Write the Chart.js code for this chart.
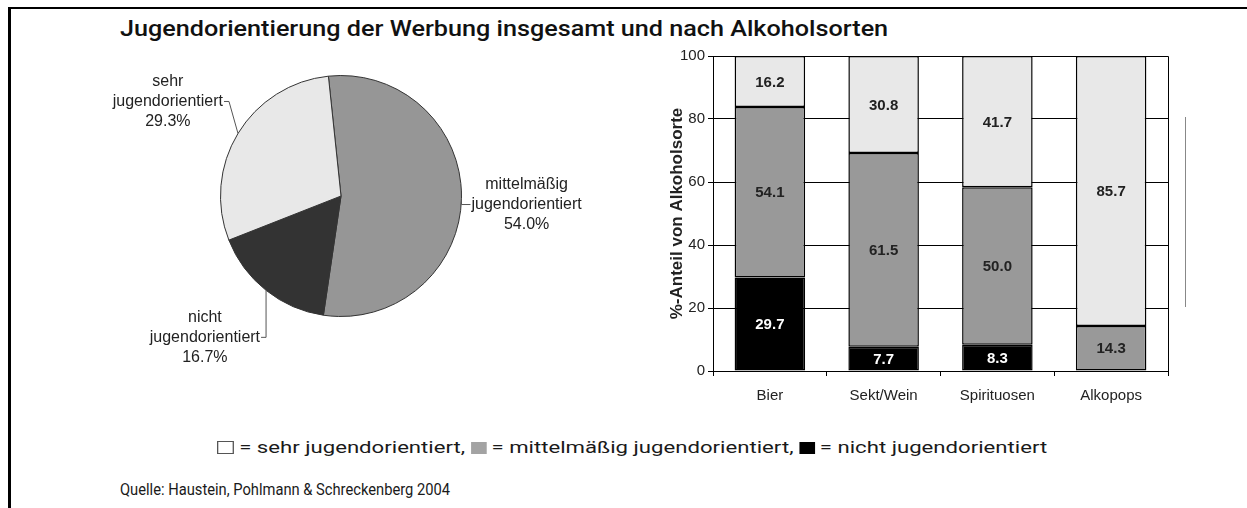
<!DOCTYPE html>
<html>
<head>
<meta charset="utf-8">
<script src="https://cdn.jsdelivr.net/npm/chart.js@4.4.1/dist/chart.umd.min.js"></script>
<style>
body{margin:0;background:#fff;width:1247px;height:508px;overflow:hidden;position:relative;font-family:Roboto,"Liberation Sans",sans-serif;}
#frame{position:absolute;left:8px;top:7px;width:1239px;height:501px;border-top:2px solid #000;border-left:3px solid #000;}
.fit{position:absolute;white-space:nowrap;transform-origin:0 0;color:#1a1a1a;}
#title{left:120px;top:16px;font-size:22px;font-weight:500;color:#111;}
#pieBox{position:absolute;left:60px;top:50px;}
#barBox{position:absolute;left:630px;top:40px;}
#stray{position:absolute;left:1185px;top:117px;width:1px;height:190px;background:#888;}
#legend{left:217px;top:437px;font-size:17px;}
#legend .sq{display:inline-block;width:12px;height:12px;vertical-align:-1px;margin-right:4px;}
#source{left:120px;top:480px;font-size:16px;}
</style>
</head>
<body>
<div id="frame"></div>
<div id="title" class="fit" data-w="768">Jugendorientierung der Werbung insgesamt und nach Alkoholsorten</div>
<div id="pieBox"><canvas id="pieChart" width="580" height="350"></canvas></div>
<div id="barBox"><canvas id="barChart" width="550" height="375"></canvas></div>
<div id="stray"></div>
<div id="legend" class="fit" data-w="830"><span class="sq" style="background:#fff;border:1px solid #555;width:11px;height:11px"></span>= sehr jugendorientiert, <span class="sq" style="background:#a3a3a3"></span>= mittelmäßig jugendorientiert, <span class="sq" style="background:#000"></span>= nicht jugendorientiert</div>
<div id="source" class="fit" data-w="330">Quelle: Haustein, Pohlmann &amp; Schreckenberg 2004</div>

<script>
// pie data (insgesamt)
const pieNames = [["mittelmäßig","jugendorientiert"],["nicht","jugendorientiert"],["sehr","jugendorientiert"]];
const pieValues = [54.0, 16.7, 29.3];

// bar data (nach Alkoholsorten)
const categories = ["Bier","Sekt/Wein","Spirituosen","Alkopops"];
const nichtValues = [29.7, 7.7, 8.3, 0];
const mittelValues = [54.1, 61.5, 50.0, 14.3];
const sehrValues = [16.2, 30.8, 41.7, 85.7];
const yTicks = [0, 20, 40, 60, 80, 100];

const FONT = '"Liberation Sans", Arial, sans-serif';

// where the leader lines bend, per slice (elbow offset from edge, tail towards text)
const leaderLayout = [
  {dx: 0, dy: 6, tail: 9},
  {dx: 0, dy: 47, tail: -5},
  {dx: -9, dy: -32, tail: -5}
];

//stretch the html texts to the width they have in the original
function fitTexts(){
  document.querySelectorAll('.fit').forEach(el => {
    const k = el.dataset.w / el.offsetWidth;
    el.style.transform = 'scaleX(' + k + ')';
  });
}

//draws the labels with leader lines round the pie
const pieLabelPlugin = {
  id: 'pieLabels',
  afterDraw(chart){
    const ctx = chart.ctx;
    const arcs = chart.getDatasetMeta(0).data;
    ctx.save();
    ctx.font = '16px ' + FONT;
    ctx.fillStyle = '#222';
    ctx.strokeStyle = '#555';
    ctx.lineWidth = 1;
    ctx.textBaseline = 'middle';
    ctx.textAlign = 'center';
    arcs.forEach((arc, i) => {
      const p = arc.getProps(['x','y','startAngle','endAngle','outerRadius'], true);
      const mid = (p.startAngle + p.endAngle) / 2;
      const ex = p.x + Math.cos(mid) * p.outerRadius;
      const ey = p.y + Math.sin(mid) * p.outerRadius;
      const lay = leaderLayout[i];
      const kx = ex + lay.dx, ky = ey + lay.dy;
      const tx = kx + lay.tail;
      ctx.beginPath();
      ctx.moveTo(ex, ey);
      ctx.lineTo(kx, ky);
      ctx.lineTo(tx, ky);
      ctx.stroke();
      const lines = [pieNames[i][0], pieNames[i][1], pieValues[i].toFixed(1) + '%'];
      const w = ctx.measureText(lines[1]).width;
      const cx = lay.tail < 0 ? tx - 1 - w / 2 : tx + 1 + w / 2;
      ctx.fillText(lines[0], cx, ky - 20);
      ctx.fillText(lines[1], cx, ky);
      ctx.fillText(lines[2], cx, ky + 20);
    });
    ctx.restore();
  }
};

//value labels inside the bar segments
const barLabelPlugin = {
  id: 'barLabels',
  afterDatasetsDraw(chart){
    const ctx = chart.ctx;
    ctx.save();
    ctx.font = 'bold 15px ' + FONT;
    ctx.textAlign = 'center';
    ctx.textBaseline = 'middle';
    chart.data.datasets.forEach((ds, d) => {
      chart.getDatasetMeta(d).data.forEach((bar, i) => {
        const v = ds.data[i];
        if (!v) return;
        ctx.fillStyle = ds.labelColor;
        ctx.fillText(v.toFixed(1), bar.x, (bar.y + bar.base) / 2 + 1);
      });
    });
    // box round the plot
    const a = chart.chartArea;
    ctx.strokeStyle = '#000';
    ctx.lineWidth = 1;
    ctx.beginPath();
    ctx.moveTo(a.left, a.top + 0.5);
    ctx.lineTo(a.right + 0.5, a.top + 0.5);
    ctx.lineTo(a.right + 0.5, a.bottom);
    ctx.stroke();
    ctx.restore();
  }
};

function pieChart(){
  new Chart(document.getElementById('pieChart'), {
    type: 'pie',
    data: {
      labels: pieNames.map(n => n.join(' ')),
      datasets: [{
        data: pieValues,
        backgroundColor: ['#969696', '#333333', '#e8e8e8'],
        borderColor: '#333',
        borderWidth: 1
      }]
    },
    options: {
      responsive: false,
      animation: false,
      rotation: -6,
      layout: {padding: {left: 157, right: 175, top: 25, bottom: 83}},
      plugins: {legend: {display: false}, tooltip: {enabled: false}}
    },
    plugins: [pieLabelPlugin]
  });
}

function barChart(){
  const tickFont = {family: FONT, size: 15};
  new Chart(document.getElementById('barChart'), {
    type: 'bar',
    data: {
      labels: categories,
      datasets: [
        {data: nichtValues, backgroundColor: '#000', labelColor: '#fff'},
        {data: mittelValues, backgroundColor: '#999', labelColor: '#222'},
        {data: sehrValues, backgroundColor: '#e8e8e8', labelColor: '#222'}
      ].map(ds => Object.assign(ds, {borderColor: '#000', borderWidth: 1.5, borderSkipped: false, barPercentage: 0.62, categoryPercentage: 1}))
    },
    options: {
      responsive: false,
      animation: false,
      layout: {padding: {top: 16, right: 12}},
      scales: {
        x: {
          stacked: true,
          grid: {offset: true, drawOnChartArea: false, tickLength: 5, color: '#000'},
          border: {color: '#000'},
          ticks: {padding: 11, color: '#222', font: tickFont},
          afterFit(s){ s.height = 44; }
        },
        y: {
          stacked: true,
          min: 0, max: 100,
          afterBuildTicks(s){ s.ticks = yTicks.map(v => ({value: v})); },
          grid: {color: '#000', tickLength: 5},
          border: {color: '#000'},
          ticks: {padding: 3, color: '#222', font: tickFont},
          title: {display: true, text: '%-Anteil von Alkoholsorte', color: '#222', font: {family: FONT, size: 17, weight: 'bold'}, padding: {top: 37}},
          afterFit(s){ s.width = 83; }
        }
      },
      plugins: {legend: {display: false}, tooltip: {enabled: false}}
    },
    plugins: [barLabelPlugin]
  });
}

fitTexts();
pieChart();
barChart();
</script>
</body>
</html>
